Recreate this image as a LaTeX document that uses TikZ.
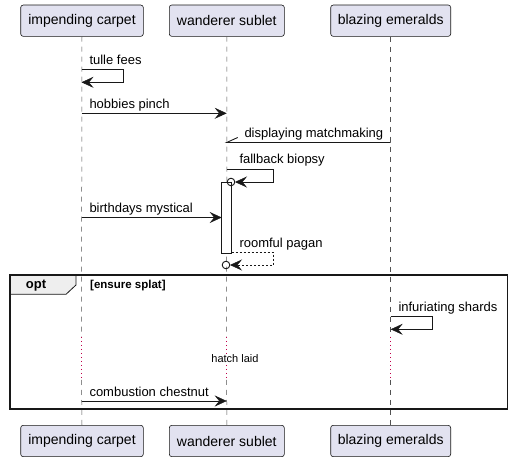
\documentclass[tikz,border=0pt]{standalone}
\usepackage{fontspec}
\setmainfont{Liberation Sans}
\usetikzlibrary{arrows.meta}
\definecolor{partfill}{HTML}{E2E2F0}
\definecolor{ink}{HTML}{181818}
\definecolor{delaycol}{HTML}{C0004A}
\definecolor{tabfill}{HTML}{EEEEEE}
\tikzset{
 part/.style={draw=ink, fill=partfill, rounded corners=2.5pt, line width=0.6pt, minimum height=31.3pt, inner sep=0pt, font=\fontsize{14}{16}\selectfont},
 life/.style={draw=ink!75, dash pattern=on 5pt off 5pt, line width=0.5pt},
 dotlife/.style={draw=delaycol, dash pattern=on 1.3pt off 2.7pt, line width=1pt},
 tip/.tip={Stealth[length=12pt,width=11pt,inset=4.5pt,line width=0.5pt]},
 msg/.style={draw=ink, line width=0.9pt, -tip},
 plain/.style={draw=ink, line width=0.9pt},
 retmsg/.style={draw=ink, line width=0.9pt, dash pattern=on 2pt off 2pt, -tip},
 lbl/.style={font=\fontsize{13}{15}\selectfont, anchor=base west, inner sep=0pt},
 actbar/.style={draw=ink, fill=white, line width=0.8pt},
}
\begin{document}
\begin{tikzpicture}[x=1pt,y=-1pt]
\useasboundingbox (0,0) rectangle (512,462);
% participants
\node[part, minimum width=122.6pt] (pa) at (82,20.7) {impending carpet};
\node[part, minimum width=115pt] (pb) at (226.8,20.7) {wanderer sublet};
\node[part, minimum width=120pt] (pc) at (390.7,20.7) {blazing emeralds};
\node[part, minimum width=122.6pt] (pa2) at (82,441) {impending carpet};
\node[part, minimum width=115pt] (pb2) at (226.8,441) {wanderer sublet};
\node[part, minimum width=120pt] (pc2) at (390.7,441) {blazing emeralds};
% lifeline coordinates
\foreach \n/\x in {a/81.5,b/226.7,c/390.7}{
  \coordinate (d\n1) at (\x,337);
  \coordinate (d\n2) at (\x,380);
}
\draw[life] (pa.south) -- (da1);
\draw[dotlife] (da1) -- (da2);
\draw[life] (da2) -- (pa2.north);
\draw[life] (pb.south) -- (db1);
\draw[dotlife] (db1) -- (db2);
\draw[life] (db2) -- (pb2.north);
\draw[life] (pc.south) -- (dc1);
\draw[dotlife] (dc1) -- (dc2);
\draw[life] (dc2) -- (pc2.north);
% tulle fees
\coordinate (t1) at (81.5,69.3);
\coordinate (t2) at (81.5,82.3);
\draw[msg] (t1) -- (123.3,69.3) -- (123.3,82.3) -- (t2);
\node[lbl] (ltf) at (89.3,65) {tulle fees};
% hobbies pinch
\coordinate (h1) at (81.5,113.3);
\coordinate (h2) at (226.7,113.3);
\draw[msg] (h1) -- (h2);
\node[lbl] (lhp) at (89.3,108.3) {hobbies pinch};
% displaying matchmaking
\coordinate (m1) at (390.7,142.5);
\coordinate (m2) at (226.7,142.5);
\draw[plain] (m1) -- (m2) -- ++(11,-5);
\node[lbl] (ldm) at (244.3,137.5) {displaying matchmaking};
% activation bar
\draw[actbar] (221.7,182.3) rectangle (231.7,253);
% fallback biopsy
\coordinate (f1) at (226.7,169.3);
\coordinate (fc) at (231,182);
\draw[plain] (fc) circle (3.8pt);
\draw[msg] (f1) -- (273.3,169.3) -- (273.3,182) -- ([xshift=4pt]fc);
\node[lbl] (lfb) at (239.3,163.5) {fallback biopsy};
% birthdays mystical
\coordinate (b1) at (81.5,217.5);
\coordinate (b2) at (221.7,217.5);
\draw[msg] (b1) -- (b2);
\node[lbl] (lbm) at (89.3,212.5) {birthdays mystical};
% roomful pagan
\coordinate (r1) at (231.7,252.3);
\coordinate (rc) at (226,265);
\draw[plain] (rc) circle (3.8pt);
\draw[retmsg] (r1) -- (273.3,252.3) -- (273.3,265) -- ([xshift=4pt]rc);
\node[lbl] (lrp) at (239.3,247.5) {roomful pagan};
% opt frame
\draw[draw=ink, fill=tabfill, line width=0.8pt] (10,275) -- (76,275) -- (76,285) -- (66,294.3) -- (10,294.3) -- cycle;
\draw[draw=ink, line width=1.6pt] (10,275) rectangle (507.3,409);
\node[font=\fontsize{13}{15}\selectfont\bfseries, inner sep=0pt, anchor=base] (opt) at (36,289) {opt};
\node[font=\fontsize{11.5}{13}\selectfont\bfseries, inner sep=0pt, anchor=base west] (cond) at (90,288.3) {[ensure splat]};
% infuriating shards
\coordinate (i1) at (390.7,316.7);
\coordinate (i2) at (390.7,329.3);
\draw[msg] (i1) -- (432.7,316.7) -- (432.7,329.3) -- (i2);
\node[lbl] (lis) at (398.3,311.7) {infuriating shards};
% delay text
\node[font=\fontsize{11}{13}\selectfont, fill=white, inner sep=1pt] (hl) at (235,359) {hatch laid};
% combustion chestnut
\coordinate (c1) at (81.5,401);
\coordinate (c2) at (226.7,401);
\draw[msg] (c1) -- (c2);
\node[lbl] (lcc) at (89.3,396.5) {combustion chestnut};
\end{tikzpicture}
\end{document}
